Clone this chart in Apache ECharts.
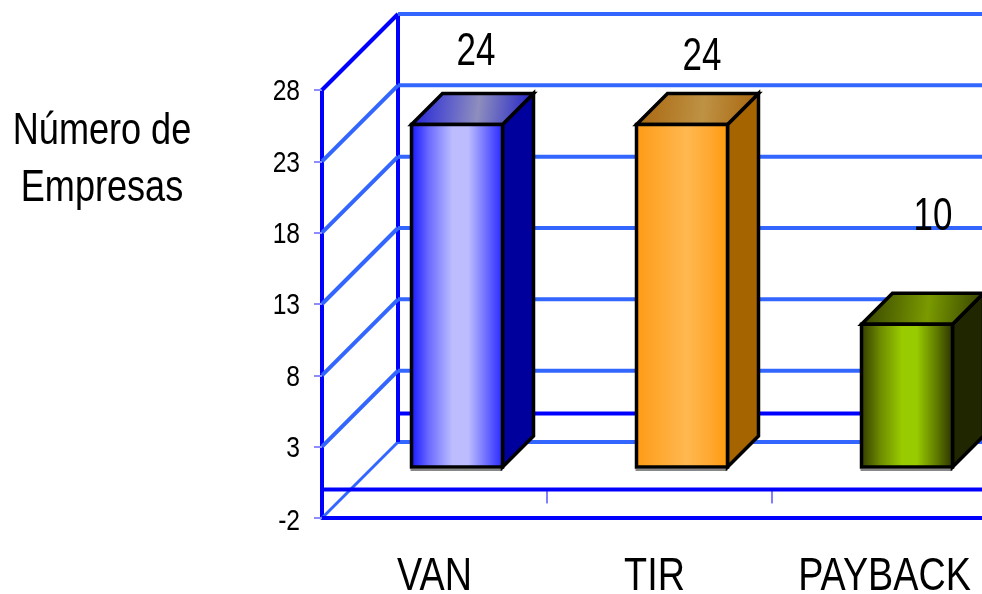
<!DOCTYPE html>
<html><head><meta charset="utf-8">
<style>html,body{margin:0;padding:0;background:#fff;overflow:hidden}#c{width:982px;height:594px}</style>
<script src="https://cdn.jsdelivr.net/npm/echarts@6/dist/echarts.min.js"></script>
</head><body><div id="c"></div>
<script>
const categories = ['VAN', 'TIR', 'PAYBACK'];
const values = [24, 24, 10];
const yTicks = [-2, 3, 8, 13, 18, 23, 28];
const yTitle = ['Número de', 'Empresas'];

const FONT = '"Liberation Sans",Arial,sans-serif';
const WALL = 76, OFF = 22.5, BAR_W = 91, BAR_D = 31;
const BLUE = '#0000FF', GRID = '#3366FF';
const NARROW = 0.82;
const faces = [
  {front:[[0,'#1010FF'],[0.2,'#6A6AFF'],[0.45,'#BCBCFF'],[0.62,'#BCBCFF'],[0.82,'#6A6AFF'],[1,'#2020FF']], side:'#00009C', top:[[0,'#1E1EDC'],[0.55,'#8E8EBE'],[1,'#1E1EC8']]},
  {front:[[0,'#FF9A14'],[0.25,'#FFA830'],[0.55,'#FFB850'],[0.8,'#FFA830'],[1,'#FF9808']], side:'#A66400', top:[[0,'#A8640C'],[0.55,'#BE9244'],[1,'#A8640C']]},
  {front:[[0,'#2E3600'],[0.22,'#6E8C00'],[0.45,'#99CC00'],[0.6,'#99CC00'],[0.82,'#5E7800'],[1,'#262E00']], side:'#1F2600', top:[[0,'#333F00'],[0.55,'#7A9A00'],[1,'#333F00']]}
];
const labelOffsets = [[41.5,-95],[42.5,-90],[48.5,-129]];
const catOffsets = [0,-5,0];

function ln(x1,y1,x2,y2,color,w){
  return {type:'line',shape:{x1,y1,x2,y2},style:{stroke:color,lineWidth:w,fill:null}};
}
function grad(stops,x,y,x2,y2){
  return {type:'linear',x,y,x2,y2,colorStops:stops.map(s=>({offset:s[0],color:s[1]}))};
}
function poly(points,fill){
  return {type:'polygon',shape:{points},style:{fill,stroke:'#000',lineWidth:3.5,lineJoin:'miter'}};
}
function txt(text,x,y,size,align,sx){
  return {type:'text',x,y,scaleX:sx,style:{text,fill:'#000',font:size+'px '+FONT,textAlign:align,textVerticalAlign:'middle'}};
}
function wallItem(params,api){
  const v = api.value(0);
  const p = api.coord([0,v]);
  const band = api.size([1,0])[0];
  const x0 = p[0]-band/2, xEnd = x0+band*3, y = p[1];
  const kids = [];
  const isTop = v===yTicks[yTicks.length-1], isBot = v===yTicks[0];
  kids.push(ln(x0,y,x0+WALL,y-WALL,isTop?BLUE:GRID,isBot?3:4));
  kids.push(ln(x0+WALL,y-WALL,xEnd,y-WALL,GRID,4));
  if(isBot){
    const z = api.coord([0,0])[1];
    kids.push(ln(x0+WALL,z-WALL,xEnd,z-WALL,BLUE,4));
    kids.push(ln(x0,z,xEnd,z,BLUE,4));
    kids.push(ln(x0+WALL,y-WALL,x0+WALL,api.coord([0,yTicks[yTicks.length-1]])[1]-WALL,BLUE,4));
    kids.push(ln(x0,y,xEnd,y,BLUE,4));
    for(let i=1;i<categories.length;i++){
      kids.push(ln(x0+band*i,z,x0+band*i,z+14,BLUE,1));
    }
  }
  kids.push(txt(String(v),x0-22,y+(isBot?4:2),30,'right',NARROW));
  return {type:'group',children:kids};
}
function barItem(params,api){
  const i = api.value(0), v = api.value(1);
  const base = api.coord([i,0]), top = api.coord([i,v]);
  const cx = base[0]+OFF, yb = base[1]-OFF, yt = top[1]-OFF;
  const l = cx-BAR_W/2, r = cx+BAR_W/2, f = faces[i];
  const o = labelOffsets[i];
  const axisY = api.coord([i,yTicks[0]])[1];
  return {type:'group',children:[
    ln(l-1,yb+3,r,yb+3,'#888888',2),
    poly([[r,yt],[r+BAR_D,yt-BAR_D],[r+BAR_D,yb-BAR_D],[r,yb]],f.side),
    poly([[l,yt],[l+BAR_D,yt-BAR_D],[r+BAR_D,yt-BAR_D],[r,yt]],grad(f.top,0,0.1,1,0.5)),
    poly([[l,yt],[r,yt],[r,yb],[l,yb]],grad(f.front,0,0,1,0)),
    txt(String(v),top[0]+o[0],top[1]+o[1],46,'center',0.76),
    txt(categories[i],base[0]+catOffsets[i],axisY+59,46,'center',NARROW)
  ]};
}
const chart = echarts.init(document.getElementById('c'),null,{renderer:'canvas'});
const barData = values.map((v,i)=>[i,v]);
chart.setOption({
  animation:false,
  backgroundColor:'#fff',
  grid:{left:322,top:90,width:675,height:428,containLabel:false,outerBoundsMode:'none'},
  xAxis:{type:'category',data:categories,boundaryGap:true,
    axisLine:{show:false},axisTick:{show:false},axisLabel:{show:false}},
  yAxis:{type:'value',min:-2,max:28,splitLine:{show:false},
    axisLine:{show:true,onZero:false,lineStyle:{color:BLUE,width:4}},
    axisTick:{show:true,length:8,customValues:yTicks,lineStyle:{color:'#8C8CFF',width:2}},
    axisLabel:{show:false}},
  graphic:yTitle.map((t,i)=>({type:'text',x:102,y:132+i*57,scaleX:NARROW,
    style:{text:t,fill:'#000',font:'44px '+FONT,textAlign:'center',textVerticalAlign:'middle'}})),
  series:[
    {type:'custom',name:'wall',coordinateSystem:'cartesian2d',clip:false,silent:true,z:1,data:yTicks.map(v=>[v]),encode:{x:-1,y:0},renderItem:wallItem},
    {type:'custom',name:'bars',coordinateSystem:'cartesian2d',clip:false,silent:true,z:3,data:barData,encode:{x:0,y:1},renderItem:barItem}
  ]
});
</script></body></html>
